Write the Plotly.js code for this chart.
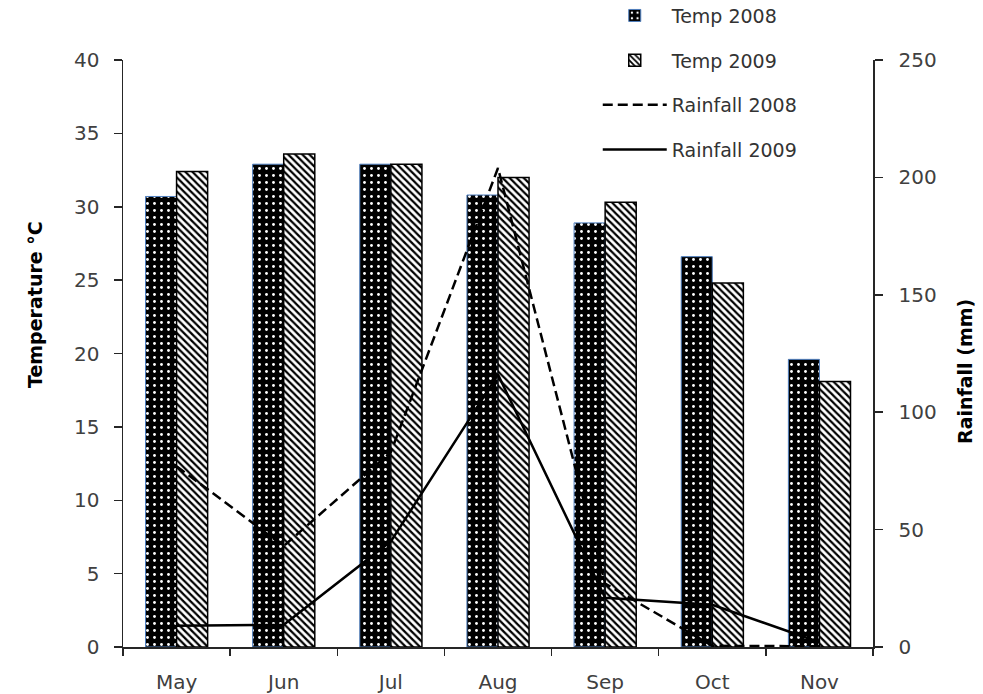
<!DOCTYPE html>
<html>
<head>
<meta charset="utf-8">
<script src="https://cdn.plot.ly/plotly-3.0.1.min.js"></script>
<style>html,body{margin:0;padding:0;background:#fff;}#chart{width:983px;height:694px;}</style>
</head>
<body>
<div id="chart"></div>
<script>
const months = ["May", "Jun", "Jul", "Aug", "Sep", "Oct", "Nov"];
const temp2008 = [30.7, 32.9, 32.9, 30.8, 28.9, 26.6, 19.6];
const temp2009 = [32.4, 33.6, 32.9, 32.0, 30.3, 24.8, 18.1];
const rain2008 = [77, 43, 83, 204, 27, 0.5, 0.3];
const rain2009 = [9, 9.5, 45, 116, 21, 18, 2];
const leftTitle = "Temperature °C";
const rightTitle = "Rainfall (mm)";

const FONT = "'DejaVu Sans', sans-serif";

const traces = [
  {
    type: "bar", name: "Temp 2008", x: months, y: temp2008, legendgroup: "a",
    marker: {
      color: "#000000",
      line: {color: "#4f7fbf", width: 1},
      pattern: {shape: ".", bgcolor: "#000000", fgcolor: "#ffffff", size: 7, solidity: 0.13, fillmode: "replace"}
    }
  },
  {
    type: "bar", name: "Temp 2009", x: months, y: temp2009, legendgroup: "b",
    marker: {
      color: "#ffffff",
      line: {color: "#000000", width: 1.5},
      pattern: {shape: "\\", bgcolor: "#ffffff", fgcolor: "#000000", size: 5, solidity: 0.45, fillmode: "replace"}
    }
  },
  {
    type: "scatter", mode: "lines", name: "Rainfall 2008", x: months, y: rain2008, yaxis: "y2", legendgroup: "c",
    line: {color: "#000000", width: 2.5, dash: "10px,5px"}
  },
  {
    type: "scatter", mode: "lines", name: "Rainfall 2009", x: months, y: rain2009, yaxis: "y2", legendgroup: "d",
    line: {color: "#000000", width: 2.5}
  }
];

const layout = {
  width: 983, height: 694,
  margin: {l: 123, r: 110, t: 60, b: 47, pad: 0, autoexpand: false},
  paper_bgcolor: "#ffffff", plot_bgcolor: "#ffffff",
  font: {family: FONT, size: 20, color: "#404040"},
  barmode: "group", bargap: 0.42, bargroupgap: 0,
  showlegend: true,
  legend: {
    x: 0.633, xanchor: "left", y: 1.108, yanchor: "top",
    bgcolor: "rgba(0,0,0,0)", font: {family: FONT, size: 19, color: "#333333"},
    traceorder: "grouped", tracegroupgap: 17, itemwidth: 64
  },
  xaxis: {
    type: "category", range: [-0.5, 6.5],
    showline: true, linecolor: "#262626", linewidth: 1.5,
    ticks: "outside", tickson: "boundaries", ticklen: 7, tickwidth: 1.5, tickcolor: "#262626",
    showgrid: false, zeroline: false, ticklabelstandoff: 16,
    tickfont: {family: FONT, size: 20, color: "#404040"}
  },
  yaxis: {
    range: [0, 40], dtick: 5, tick0: 0,
    showline: true, linecolor: "#262626", linewidth: 1.5,
    ticks: "outside", ticklen: 8, tickwidth: 1.5, tickcolor: "#262626",
    showgrid: false, zeroline: false, ticklabelstandoff: 10,
    tickfont: {family: FONT, size: 20, color: "#404040"}
  },
  yaxis2: {
    overlaying: "y", side: "right", range: [0, 250], dtick: 50, tick0: 0,
    showline: true, linecolor: "#262626", linewidth: 1.5,
    ticks: "outside", ticklen: 8, tickwidth: 1.5, tickcolor: "#262626",
    showgrid: false, zeroline: false, ticklabelstandoff: 12,
    tickfont: {family: FONT, size: 20, color: "#404040"}
  },
  annotations: [
    {text: leftTitle, xref: "paper", yref: "paper", x: (35 - 123) / 750, y: (647 - 305) / 587,
     xanchor: "center", yanchor: "middle", textangle: -90, showarrow: false,
     font: {family: FONT, size: 19, color: "#000000", weight: "bold"}},
    {text: rightTitle, xref: "paper", yref: "paper", x: (965 - 123) / 750, y: (647 - 372) / 587,
     xanchor: "center", yanchor: "middle", textangle: -90, showarrow: false,
     font: {family: FONT, size: 19, color: "#000000", weight: "bold"}}
  ]
};

Plotly.newPlot("chart", traces, layout, {displayModeBar: false, staticPlot: true});
</script>
</body>
</html>
